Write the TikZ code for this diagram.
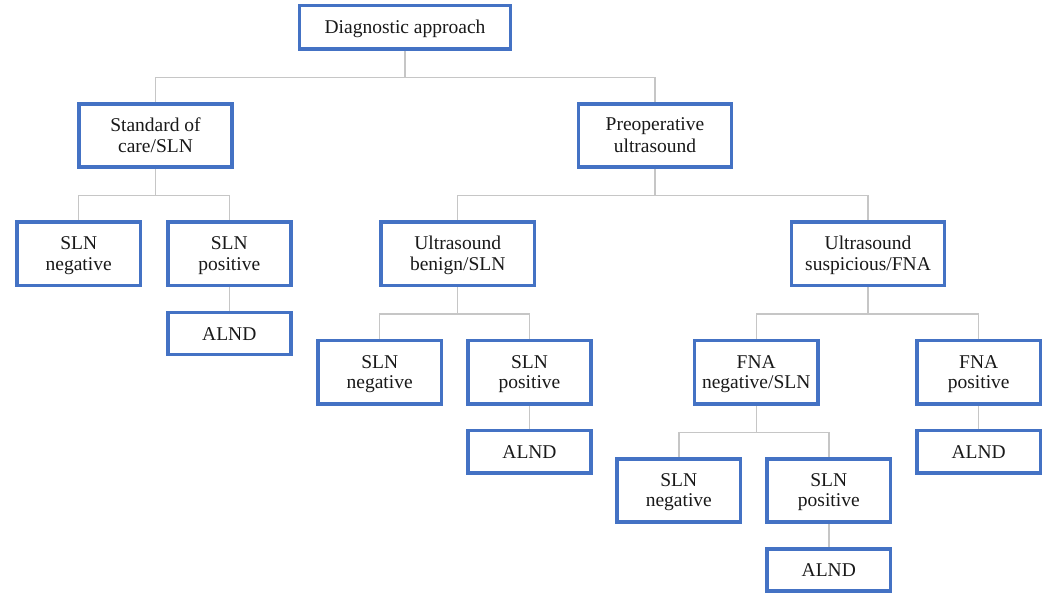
\documentclass[tikz,border=0pt]{standalone}
\usepackage{fontspec}
\setmainfont{Liberation Serif}
\definecolor{boxblue}{HTML}{4472C4}
\definecolor{linegray}{HTML}{C6C6C6}
\newcommand\ls{\rule[-3.7pt]{0pt}{20.5pt}}
\tikzset{
  box/.style={draw=boxblue, line width=2.4pt, fill=white, align=center, inner sep=0pt,
    font=\fontsize{19.5pt}{20.5pt}\selectfont, text=black!90},
  wide/.style={box, minimum width=152pt, minimum height=62pt},
  narrow/.style={box, minimum width=122pt, minimum height=62pt},
  small/.style={box, minimum width=122pt, minimum height=41pt},
  conn/.style={draw=linegray, line width=1.4pt},
}
\begin{document}
\begin{tikzpicture}[x=1pt,y=-1pt]
\useasboundingbox (0,0) rectangle (1050,592);
\node[box, minimum width=210pt, minimum height=42.5pt] (diag) at (405,27.3) {\ls Diagnostic approach};
\node[wide] (std) at (155.5,135.4) {\ls Standard of\\\ls care/SLN};
\node[wide] (pre) at (655,135.4) {\ls Preoperative\\\ls ultrasound};
\node[narrow] (sneg1) at (78.7,253.7) {\ls SLN\\\ls negative};
\node[narrow] (spos1) at (229.3,253.7) {\ls SLN\\\ls positive};
\node[small] (alnd1) at (229.3,333.5) {\ls ALND};
\node[wide] (ben) at (457.7,253.7) {\ls Ultrasound\\\ls benign/SLN};
\node[wide] (sus) at (868,253.7) {\ls Ultrasound\\\ls suspicious/FNA};
\node[narrow] (sneg2) at (379.7,372.2) {\ls SLN\\\ls negative};
\node[narrow] (spos2) at (529.5,372.2) {\ls SLN\\\ls positive};
\node[small] (alnd2) at (529.5,451.7) {\ls ALND};
\node[narrow] (fneg) at (756.2,372.2) {\ls FNA\\\ls negative/SLN};
\node[narrow] (fpos) at (978.7,372.2) {\ls FNA\\\ls positive};
\node[small] (alnd3) at (978.7,451.7) {\ls ALND};
\node[narrow] (sneg3) at (678.8,490.3) {\ls SLN\\\ls negative};
\node[narrow] (spos3) at (828.8,490.3) {\ls SLN\\\ls positive};
\node[small] (alnd4) at (828.8,570) {\ls ALND};
\foreach \p/\c in {diag/std,diag/pre,std/sneg1,std/spos1,pre/ben,pre/sus,ben/sneg2,ben/spos2,sus/fneg,sus/fpos,fneg/sneg3,fneg/spos3}{
  \draw[conn] (\p.south) -- ++(0,28) -| (\c.north);
}
\foreach \p/\c in {spos1/alnd1,spos2/alnd2,fpos/alnd3,spos3/alnd4}{
  \draw[conn] (\p.south) -- (\c.north);
}
\foreach \n in {diag,std,pre,sneg1,spos1,alnd1,ben,sus,sneg2,spos2,alnd2,fneg,fpos,alnd3,sneg3,spos3,alnd4}{
  \draw[draw=boxblue, line width=2.4pt] (\n.south west) rectangle (\n.north east);
}
\end{tikzpicture}
\end{document}
